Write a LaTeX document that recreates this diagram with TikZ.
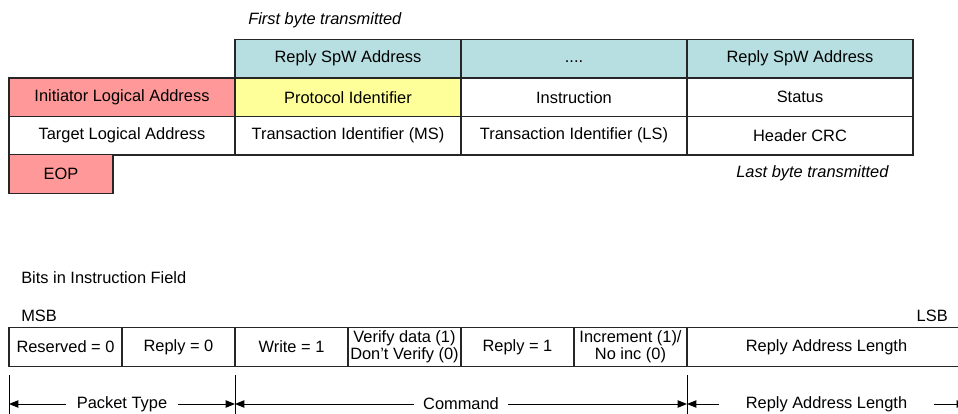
\documentclass[tikz,border=0pt]{standalone}
\usepackage{fontspec}
\setmainfont{Liberation Sans}
\usetikzlibrary{arrows.meta}

\definecolor{eopred}{RGB}{255,153,153}
\definecolor{spwcyan}{RGB}{183,222,224}
\definecolor{pidyellow}{RGB}{255,255,153}
\newcommand{\figfont}{\fontsize{12.3}{14}\selectfont}

\tikzset{
  cell/.style={draw=black!85, line width=0.9pt, minimum height=29pt, inner sep=0pt},
  wide/.style={cell, minimum width=169.5pt},
  bit/.style={cell, minimum width=84.75pt},
  twoline/.style={align=center, font=\fontsize{12.3}{12.8}\selectfont},
  plain/.style={inner sep=0pt},
  note/.style={plain, font=\figfont\itshape},
  dimlabel/.style={inner ysep=2pt}
}

\begin{document}
\begin{tikzpicture}[x=0.75pt,y=-0.75pt,>={Triangle[length=7pt,width=5.5pt]},
                    every node/.style={font=\figfont}]
                \useasboundingbox (0,0) rectangle (958,414);
                \clip (0,0) rectangle (958,414);
                % reply header
                \node[note, anchor=base west] (first) at (248,24) {First byte transmitted};
                \node[wide, fill=spwcyan] (spwa) at (348,58.5) {Reply SpW Address};
                \node[wide, fill=spwcyan] (spwdots) at (574,58.5) {\vphantom{Reply}....};
                \node[wide, fill=spwcyan] (spwn) at (800,58.5) {Reply SpW Address};
                \node[wide, fill=eopred] (ila) at (122,97.25) {Initiator Logical Address};
                \node[wide, fill=pidyellow] (pid) at (348,97.25) {Protocol Identifier};
                \node[wide] (instr) at (574,97.25) {Instruction};
                \node[wide] (status) at (800,97.25) {Status};
                \node[wide] (tla) at (122,135.75) {Target Logical Address};
                \node[wide] (tidms) at (348,135.75) {Transaction Identifier (MS)};
                \node[wide] (tidls) at (574,135.75) {Transaction Identifier (LS)};
                \node[wide] (hcrc) at (800,135.75) {Header CRC};
                \node[cell, fill=eopred, minimum width=78pt] (eop) at (61,174) {EOP};
                \node[note, anchor=base west] (last) at (736,177) {Last byte transmitted};
                % instruction field
                \node[plain, anchor=base west] (bits) at (21,283) {Bits in Instruction Field};
                \node[plain, anchor=base west] (msb) at (21,321) {MSB};
                \node[plain, anchor=base east] (lsb) at (948,321) {LSB};
                \node[bit] (res) at (65.5,347) {Reserved = 0};
                \node[bit] (repa) at (178.5,347) {Reply = 0};
                \node[bit] (wr) at (291.5,347) {Write = 1};
                \node[bit, twoline] (ver) at (404.5,347) {Verify data (1)\\Don't Verify (0)};
                \node[bit] (repb) at (517.5,347) {Reply = 1};
                \node[bit, twoline] (inc) at (630.5,347) {Increment (1)/\\No inc (0)};
                \node[cell, minimum width=209.25pt] (ral) at (826.5,347) {Reply Address Length};
                % field groups
                \foreach \n/\xx in {0/9,1/235,2/687,3/966} {
                    \coordinate (tick\n) at (\xx,375);
                    \coordinate (arw\n) at (\xx,404);
                    \draw[line width=0.75pt] (tick\n) -- ++(0,45);
                }
                \node[dimlabel, inner xsep=8pt] (pkt) at (122,404) {Packet Type};
                \draw[->, line width=0.75pt] (pkt) -- (arw0);
                \draw[->, line width=0.75pt] (pkt) -- (arw1);
                \node[dimlabel, inner xsep=7pt] (cmd) at (461,404) {Command};
                \draw[->, line width=0.75pt] (cmd) -- (arw1);
                \draw[->, line width=0.75pt] (cmd) -- (arw2);
                \node[dimlabel, inner xsep=20pt] (ralen) at (826.5,404) {Reply Address Length};
                \draw[->, line width=0.75pt] (ralen) -- (arw2);
                \draw[->, line width=0.75pt] (ralen) -- (arw3);
            \end{tikzpicture}
\end{document}
